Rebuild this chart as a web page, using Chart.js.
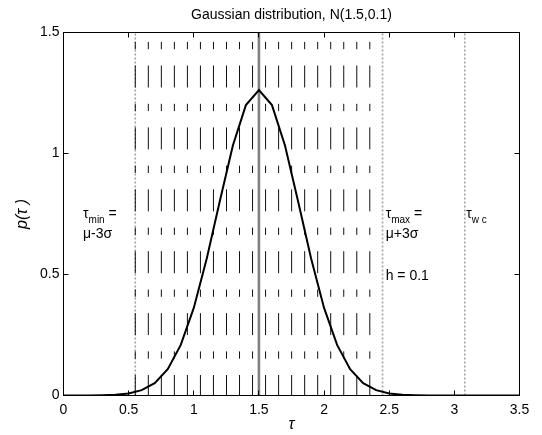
<!DOCTYPE html>
<html>
<head>
<meta charset="utf-8">
<script src="https://cdn.jsdelivr.net/npm/chart.js@4"></script>
<style>
  html, body { margin: 0; padding: 0; background: #fff; }
</style>
</head>
<body>
<canvas id="chart" width="542" height="435"></canvas>
<script>
// sample points of the density curve
const tau = [0, 0.1, 0.2, 0.3, 0.4, 0.5, 0.6, 0.7, 0.8, 0.9, 1.0, 1.1, 1.2, 1.3, 1.4, 1.5, 1.6, 1.7,
  1.8, 1.9, 2.0, 2.1, 2.2, 2.3, 2.4, 2.5, 2.6, 2.7, 2.8, 2.9, 3.0, 3.1, 3.2, 3.3, 3.4, 3.5];
const density = [0, 0, 0, 0.001, 0.003, 0.008, 0.022, 0.051, 0.109, 0.209, 0.362, 0.567, 0.804, 1.033,
  1.2, 1.262, 1.2, 1.033, 0.804, 0.567, 0.362, 0.209, 0.109, 0.051, 0.022, 0.008, 0.003, 0.001,
  0, 0, 0, 0, 0, 0, 0, 0];

// step lines, h = 0.1 from tau_min
const stepLines = [0.551, 0.651, 0.751, 0.851, 0.951, 1.051, 1.151, 1.251, 1.351, 1.451,
  1.551, 1.651, 1.751, 1.851, 1.951, 2.051, 2.151, 2.251, 2.351];
const boundLines = [0.551, 2.449, 3.08]; // tau_min, tau_max, tau_wc
const meanLine = [1.5];

const xTicks = [0, 0.5, 1, 1.5, 2, 2.5, 3, 3.5];
const yTicks = [0, 0.5, 1, 1.5];

const FONT = 'Arial, "Liberation Sans", Helvetica, sans-serif';
Chart.defaults.font.family = FONT;
Chart.defaults.font.size = 14;
Chart.defaults.color = "#000";

const yLo = yTicks[0];
const yHi = yTicks[yTicks.length - 1];

function vline(x, style) {
  return Object.assign({
    data: [{ x: x, y: yLo }, { x: x, y: yHi }],
    pointRadius: 0,
    fill: false,
  }, style);
}

const datasets = [
  {
    label: "p(tau)",
    data: tau.map((t, i) => ({ x: t, y: density[i] })),
    borderColor: "#000",
    borderWidth: 2,
    pointRadius: 0,
    tension: 0,
    order: 0,
  },
];
meanLine.forEach(v => datasets.push(vline(v, { borderColor: "#808080", borderWidth: 2.6, order: 1 })));
stepLines.forEach(v => datasets.push(vline(v, {
  borderColor: "#111", borderWidth: 1, borderDash: [22, 16.3, 7.3, 16.3], borderDashOffset: 1.5, order: 2,
})));
boundLines.forEach(v => datasets.push(vline(v, {
  borderColor: "#a0a0a0", borderWidth: 1.6, borderDash: [2, 2], order: 3,
})));

// rich text: parts = [text, size, dy]
function rich(ctx, x0, y0, parts) {
  let x = x0;
  parts.forEach(([t, size, dy]) => {
    ctx.font = size + "px " + FONT;
    ctx.fillText(t, x, y0 + (dy || 0));
    x += ctx.measureText(t).width;
  });
}

const decorations = {
  id: "decorations",
  afterDraw(chart) {
    const { ctx, chartArea: a, scales: { x, y } } = chart;
    ctx.save();
    ctx.strokeStyle = "#000";
    ctx.lineWidth = 1;
    ctx.strokeRect(a.left, a.top, a.right - a.left, a.bottom - a.top);

    // ticks point inwards on all four sides
    ctx.beginPath();
    xTicks.forEach(v => {
      const px = Math.round(x.getPixelForValue(v) - 0.5) + 0.5;
      ctx.moveTo(px, a.bottom); ctx.lineTo(px, a.bottom - 5);
      ctx.moveTo(px, a.top); ctx.lineTo(px, a.top + 5);
    });
    yTicks.forEach(v => {
      const py = Math.round(y.getPixelForValue(v) - 0.5) + 0.5;
      ctx.moveTo(a.left, py); ctx.lineTo(a.left + 5, py);
      ctx.moveTo(a.right, py); ctx.lineTo(a.right - 5, py);
    });
    ctx.stroke();

    ctx.fillStyle = "#000";
    ctx.textBaseline = "alphabetic";
    ctx.textAlign = "center";
    ctx.font = "14px " + FONT;
    ctx.fillText("Gaussian distribution, N(1.5,0.1)", (a.left + a.right) / 2, 19);

    ctx.font = "italic 16px " + FONT;
    ctx.fillText("\u03c4", (a.left + a.right) / 2, 429);

    ctx.save();
    ctx.translate(27, (a.top + a.bottom) / 2);
    ctx.rotate(-Math.PI / 2);
    ctx.fillText("p(\u03c4 )", 0, 0);
    ctx.restore();

    ctx.textAlign = "left";
    let px = x.getPixelForValue(0.15);
    let py = y.getPixelForValue(0.733);
    rich(ctx, px, py, [["\u03c4", 14], ["min", 10, 5], [" =", 14]]);
    rich(ctx, px, py + 20, [["\u03bc-3\u03c3", 14]]);

    px = x.getPixelForValue(2.473);
    rich(ctx, px, py, [["\u03c4", 14], ["max", 10, 5], [" =", 14]]);
    rich(ctx, px, py + 20, [["\u03bc+3\u03c3", 14]]);
    rich(ctx, px, y.getPixelForValue(0.477), [["h = 0.1", 14]]);

    px = x.getPixelForValue(3.092);
    rich(ctx, px, py, [["\u03c4", 14], ["w c", 10, 5]]);
    ctx.restore();
  },
};

new Chart(document.getElementById("chart"), {
  type: "line",
  data: { datasets: datasets },
  options: {
    responsive: false,
    animation: false,
    layout: { padding: { top: 32.5, right: 22.5, left: 0, bottom: 0 } },
    plugins: { legend: { display: false }, tooltip: { enabled: false }, title: { display: false } },
    scales: {
      x: {
        type: "linear",
        min: xTicks[0],
        max: xTicks[xTicks.length - 1],
        afterBuildTicks: s => { s.ticks = xTicks.map(v => ({ value: v })); },
        afterFit: s => { s.height = 39.5; },
        grid: { display: false, drawTicks: false },
        border: { display: false },
        ticks: { padding: 6, maxRotation: 0, autoSkip: false, callback: v => String(v) },
      },
      y: {
        type: "linear",
        min: yLo,
        max: yHi,
        afterBuildTicks: s => { s.ticks = yTicks.map(v => ({ value: v })); },
        afterFit: s => { s.width = 63.5; },
        grid: { display: false, drawTicks: false },
        border: { display: false },
        ticks: { padding: 4, callback: v => String(v) },
      },
    },
  },
  plugins: [decorations],
});
</script>
</body>
</html>
